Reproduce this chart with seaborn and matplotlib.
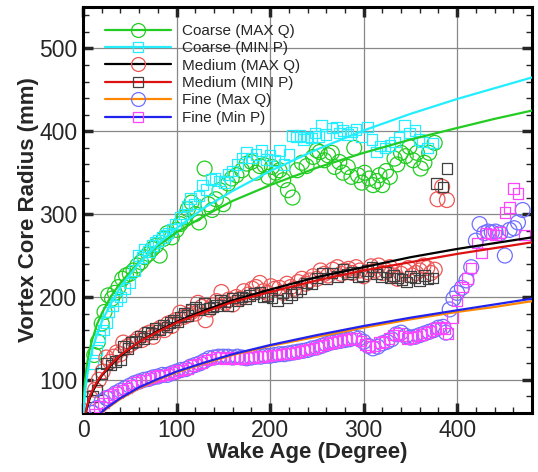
import matplotlib
matplotlib.use("Agg")
import matplotlib.pyplot as plt
from matplotlib.lines import Line2D
import seaborn as sns

# ---- scatter data (wake age in degrees, core radius in mm) ----
coarse_maxq_x = [12, 16, 20, 23, 27, 31, 34, 38, 42, 46, 50, 54, 58, 62, 66, 70, 74, 78, 82, 86,
                 90, 95, 100, 104, 108, 112, 116, 120, 124, 130, 134, 138, 142, 146, 150, 155, 159,
                 164, 170, 175, 180, 185, 189, 194, 198, 202, 206, 210, 214, 219, 224, 229, 234, 239,
                 246, 250, 253, 258, 262, 266, 269, 274, 278, 283, 287, 290, 294, 298, 301, 306, 310,
                 314, 317, 320, 324, 328, 333, 336, 340, 345, 349, 353, 357, 361, 365, 370, 376]
coarse_maxq_y = [130, 146, 168, 182, 202, 198, 205, 212, 222, 226, 228, 232, 238, 242, 248, 252, 258,
                 262, 250, 270, 277, 272, 281, 288, 296, 306, 314, 300, 290, 355, 312, 305, 318, 329,
                 312, 337, 343, 347, 353, 361, 363, 350, 358, 359, 345, 357, 350, 353, 341, 329, 320,
                 353, 362, 358, 369, 377, 375, 365, 371, 374, 357, 363, 350, 357, 345, 380, 347, 338,
                 350, 343, 335, 340, 347, 335, 352, 345, 367, 360, 374, 370, 381, 365, 374, 355, 362,
                 374, 386]

coarse_minp_x = [10, 15, 18, 22, 25, 27, 32, 36, 40, 45, 50, 55, 59, 63, 66, 70, 74, 77, 81, 85, 88,
                 91, 95, 99, 104, 108, 111, 115, 119, 124, 128, 132, 137, 141, 146, 151, 155, 160, 165,
                 170, 175, 180, 185, 191, 196, 200, 205, 210, 215, 220, 224, 228, 232, 236, 239, 244,
                 248, 252, 255, 260, 266, 271, 274, 278, 283, 287, 292, 298, 304, 309, 314, 318, 323,
                 328, 333, 338, 344, 349, 355, 359, 363, 368, 374]
coarse_minp_y = [120, 136, 152, 160, 169, 182, 190, 196, 200, 210, 217, 232, 250, 248, 257, 255, 262,
                 266, 268, 272, 275, 277, 282, 288, 296, 300, 310, 319, 312, 322, 335, 330, 342, 343,
                 340, 338, 348, 352, 360, 368, 375, 368, 372, 377, 366, 371, 365, 377, 360, 372, 395,
                 393, 395, 390, 393, 392, 398, 394, 407, 396, 404, 405, 398, 401, 396, 399, 402, 393,
                 405, 390, 375, 382, 380, 383, 387, 393, 407, 398, 401, 390, 387, 380, 386]

medium_maxq_x = [8, 13, 17, 21, 25, 29, 33, 36, 40, 43, 47, 51, 55, 59, 63, 67, 71, 75, 79, 83, 87,
                 91, 95, 99, 104, 108, 112, 116, 120, 123, 127, 131, 135, 139, 143, 148, 152, 156, 160,
                 164, 168, 172, 177, 181, 185, 189, 193, 197, 201, 205, 210, 214, 218, 222, 226, 230,
                 234, 238, 242, 246, 250, 254, 258, 262, 267, 272, 276, 280, 284, 288, 292, 296, 300,
                 304, 308, 312, 316, 320, 324, 328, 332, 336, 340, 344, 348, 352, 356, 360, 364, 368,
                 372, 376, 379, 384, 389]
medium_maxq_y = [78, 88, 100, 110, 127, 122, 128, 133, 131, 145, 140, 143, 146, 150, 148, 155, 157,
                 152, 160, 163, 160, 168, 165, 172, 181, 176, 178, 182, 180, 193, 188, 172, 185, 190,
                 195, 206, 193, 197, 191, 200, 198, 207, 203, 210, 212, 217, 207, 205, 213, 210, 211,
                 205, 216, 212, 210, 218, 222, 216, 220, 225, 222, 232, 228, 226, 233, 236, 228, 232,
                 234, 229, 236, 232, 225, 230, 237, 232, 238, 229, 232, 236, 226, 222, 228, 232, 235,
                 226, 229, 232, 238, 235, 229, 233, 318, 333, 317]

medium_minp_x = [10, 15, 20, 25, 30, 35, 40, 43, 48, 52, 56, 61, 65, 69, 73, 77, 82, 86, 90, 93, 97,
                 101, 104, 108, 112, 116, 120, 125, 130, 135, 139, 143, 147, 151, 155, 160, 165, 170,
                 174, 178, 183, 189, 193, 197, 202, 208, 213, 218, 223, 228, 233, 239, 245, 250, 256,
                 261, 266, 272, 278, 283, 288, 294, 299, 304, 309, 314, 319, 324, 328, 332, 336, 341,
                 346, 350, 355, 360, 365, 369, 374, 378, 385, 389]
medium_minp_y = [80, 88, 108, 120, 118, 122, 124, 140, 138, 145, 146, 152, 150, 158, 156, 162, 160,
                 166, 164, 169, 172, 170, 176, 180, 178, 185, 187, 185, 193, 186, 188, 190, 196, 194,
                 190, 199, 196, 200, 198, 202, 204, 206, 200, 202, 199, 196, 205, 199, 203, 206, 210,
                 217, 216, 223, 229, 222, 229, 225, 234, 228, 230, 224, 226, 232, 236, 228, 224, 230,
                 223, 226, 223, 221, 218, 225, 223, 220, 226, 222, 223, 337, 333, 355]

fine_maxq_x = [10, 15, 20, 25, 30, 35, 40, 45, 50, 55, 60, 65, 70, 75, 80, 85, 90, 95, 100, 105, 110,
               115, 120, 125, 130, 135, 140, 145, 150, 155, 160, 165, 170, 175, 180, 185, 190, 195,
               200, 205, 210, 215, 220, 225, 230, 235, 240, 245, 250, 255, 260, 265, 270, 275, 280,
               285, 290, 295, 300, 305, 310, 315, 320, 325, 330, 335, 340, 345, 350, 355, 360, 365,
               370, 375, 380, 385, 388, 392, 396, 400, 405, 410, 415, 420, 424, 429, 433, 437, 441,
               446, 451, 456, 461, 465, 470]
fine_maxq_y = [60, 66, 74, 78, 80, 84, 87, 90, 93, 96, 98, 100, 101, 103, 104, 106, 106, 108, 110,
               112, 113, 116, 118, 120, 123, 126, 127, 128, 128, 128, 127, 128, 127, 126, 127, 128,
               128, 129, 129, 130, 131, 131, 132, 133, 134, 135, 136, 138, 139, 141, 143, 145, 146,
               147, 148, 149, 151, 150, 146, 141, 138, 140, 144, 146, 149, 155, 157, 153, 151, 152,
               154, 156, 158, 160, 163, 164, 157, 185, 198, 205, 211, 220, 236, 268, 288, 277, 279,
               278, 279, 277, 250, 281, 283, 290, 305]

fine_minp_x = [12, 17, 22, 27, 32, 37, 42, 47, 52, 57, 62, 67, 72, 77, 82, 87, 92, 97, 102, 107, 112,
               117, 122, 127, 132, 137, 142, 147, 152, 157, 162, 167, 172, 177, 182, 187, 192, 197,
               202, 207, 212, 217, 222, 227, 232, 237, 242, 247, 252, 257, 262, 267, 272, 277, 282,
               287, 292, 297, 302, 307, 312, 317, 322, 327, 332, 337, 342, 347, 352, 357, 362, 367,
               372, 377, 382, 387, 390, 395, 400, 406, 411, 415, 421, 426, 431, 436, 441, 446, 451,
               456, 460, 465, 472]
fine_minp_y = [58, 68, 72, 80, 82, 85, 88, 90, 94, 97, 99, 100, 102, 104, 105, 106, 107, 109, 111,
               112, 114, 117, 119, 121, 124, 125, 127, 127, 126, 127, 126, 127, 126, 127, 127, 128,
               128, 129, 130, 130, 131, 132, 132, 133, 134, 136, 137, 138, 140, 142, 144, 145, 146,
               148, 149, 150, 150, 147, 143, 140, 141, 145, 146, 150, 154, 156, 153, 150, 151, 153,
               155, 157, 159, 162, 163, 162, 156, 175, 196, 212, 222, 235, 265, 253, 277, 276, 275,
               278, 302, 308, 331, 325, 275]

# ---- fitted curves ----
fit_x = [1, 2, 4, 7, 10, 15, 20, 30, 40, 60, 80, 100, 130, 160, 200, 250, 300, 350, 400, 440, 480]
coarse_maxq_fit = [80, 97, 117, 136, 149, 167, 180, 201, 217, 242, 262, 278, 298, 316, 335, 356, 374,
                   390, 404, 415, 425]
coarse_minp_fit = [66, 82, 102, 122, 137, 155, 170, 193, 212, 241, 264, 283, 308, 328, 352, 378, 401,
                   421, 439, 452, 465]
medium_maxq_fit = [43, 53, 65, 77, 85, 96, 105, 118, 129, 146, 159, 170, 184, 196, 209, 224, 236, 248,
                   258, 265, 272]
medium_minp_fit = [45, 55, 67, 79, 87, 98, 106, 119, 130, 146, 158, 169, 182, 194, 206, 220, 232, 242,
                   252, 259, 266]
fine_fit_x = [16, 20, 25, 30, 40, 60, 80, 100, 130, 160, 200, 250, 300, 350, 400, 440, 480]
fine_maxq_fit = [55, 60, 65, 69, 77, 90, 100, 109, 120, 130, 141, 152, 163, 173, 182, 188, 195]
fine_minp_fit = [56, 61, 66, 70, 78, 91, 101, 110, 121, 131, 142, 154, 165, 175, 184, 191, 198]

labels = ["Coarse (MAX Q)", "Coarse (MIN P)", "Medium (MAX Q)",
          "Medium (MIN P)", "Fine (Max Q)", "Fine (Min P)"]

sns.set_style("ticks")
plt.rcParams["font.family"] = ["Liberation Sans", "DejaVu Sans"]

fig = plt.figure(figsize=(5.38, 4.72), dpi=100)
ax = fig.add_axes([83 / 538, 1 - 413 / 472, 449 / 538, 406 / 472])

GREEN, CYAN = "#22cc22", "#22eeff"
RED_PT, RED_LN = "#ee5555", "#dd1111"
BLACK_PT = "#404040"
BLUE_PT, BLUE_LN = "#6f6fff", "#2222ee"
MAGENTA, ORANGE = "#ff44ff", "#ff8800"

circ = dict(marker="o", s=115, facecolor="none", linewidth=0.9, zorder=3)
sq = dict(marker="s", s=58, facecolor="none", linewidth=0.9, zorder=3)

sns.scatterplot(x=coarse_maxq_x, y=coarse_maxq_y, edgecolor=GREEN, ax=ax, **circ)
sns.scatterplot(x=coarse_minp_x, y=coarse_minp_y, edgecolor=CYAN, ax=ax, **sq)
sns.scatterplot(x=medium_maxq_x, y=medium_maxq_y, edgecolor=RED_PT, ax=ax, **circ)
sns.scatterplot(x=medium_minp_x, y=medium_minp_y, edgecolor=BLACK_PT, ax=ax, **sq)
sns.scatterplot(x=fine_maxq_x, y=fine_maxq_y, edgecolor=BLUE_PT, ax=ax, **circ)
sns.scatterplot(x=fine_minp_x, y=fine_minp_y, edgecolor=MAGENTA, ax=ax, **sq)

# fit lines (note: line colours are swapped against marker colours for medium/fine)
sns.lineplot(x=[0.3] + fit_x, y=[58] + coarse_maxq_fit, color=GREEN, lw=1.6, ax=ax, zorder=4)
sns.lineplot(x=[0.5] + fit_x, y=[53] + coarse_minp_fit, color=CYAN, lw=1.6, ax=ax, zorder=4)
sns.lineplot(x=fit_x, y=medium_maxq_fit, color="black", lw=1.6, ax=ax, zorder=4)
sns.lineplot(x=fit_x, y=medium_minp_fit, color=RED_LN, lw=1.6, ax=ax, zorder=4)
sns.lineplot(x=fine_fit_x, y=fine_maxq_fit, color=ORANGE, lw=1.6, ax=ax, zorder=4)
sns.lineplot(x=fine_fit_x, y=fine_minp_fit, color=BLUE_LN, lw=1.6, ax=ax, zorder=4)

ax.set_xlim(0, 480)
ax.set_ylim(60, 550)
ax.set_xticks([0, 100, 200, 300, 400])
ax.set_yticks([100, 200, 300, 400, 500])
ax.set_xticks(range(0, 481, 20), minor=True)
ax.set_yticks(range(60, 551, 20), minor=True)
ax.grid(True, which="major", color="#888888", lw=0.9, zorder=0)
ax.set_axisbelow(True)
ax.tick_params(which="major", direction="in", length=7, width=2.5, top=True, right=True,
               labelsize=16.5, pad=4)
ax.tick_params(which="minor", direction="in", length=4, width=1, top=True, right=True)
for sp in ax.spines.values():
    sp.set_linewidth(2.2)
    sp.set_color("black")

ax.set_xlabel("Wake Age (Degree)", fontsize=16, fontweight="bold", labelpad=0)
ax.set_ylabel("Vortex Core Radius (mm)", fontsize=16, fontweight="bold", labelpad=0)

handles = [
    Line2D([], [], color=GREEN, lw=1.6, marker="o", ms=10, mfc="none", mec=GREEN, mew=0.9),
    Line2D([], [], color=CYAN, lw=1.6, marker="s", ms=7.5, mfc="none", mec=CYAN, mew=0.9),
    Line2D([], [], color="black", lw=1.6, marker="o", ms=10, mfc="none", mec=RED_PT, mew=0.9),
    Line2D([], [], color=RED_LN, lw=1.6, marker="s", ms=7.5, mfc="none", mec=BLACK_PT, mew=0.9),
    Line2D([], [], color=ORANGE, lw=1.6, marker="o", ms=10, mfc="none", mec=BLUE_PT, mew=0.9),
    Line2D([], [], color=BLUE_LN, lw=1.6, marker="s", ms=7.5, mfc="none", mec=MAGENTA, mew=0.9),
]
ax.legend(handles, labels, loc="upper left", bbox_to_anchor=(0.049, 0.958), frameon=False,
          fontsize=11, handlelength=4.3, handletextpad=0.75, labelspacing=0.22,
          borderpad=0, borderaxespad=0)

fig.savefig("out.png", dpi=100)
